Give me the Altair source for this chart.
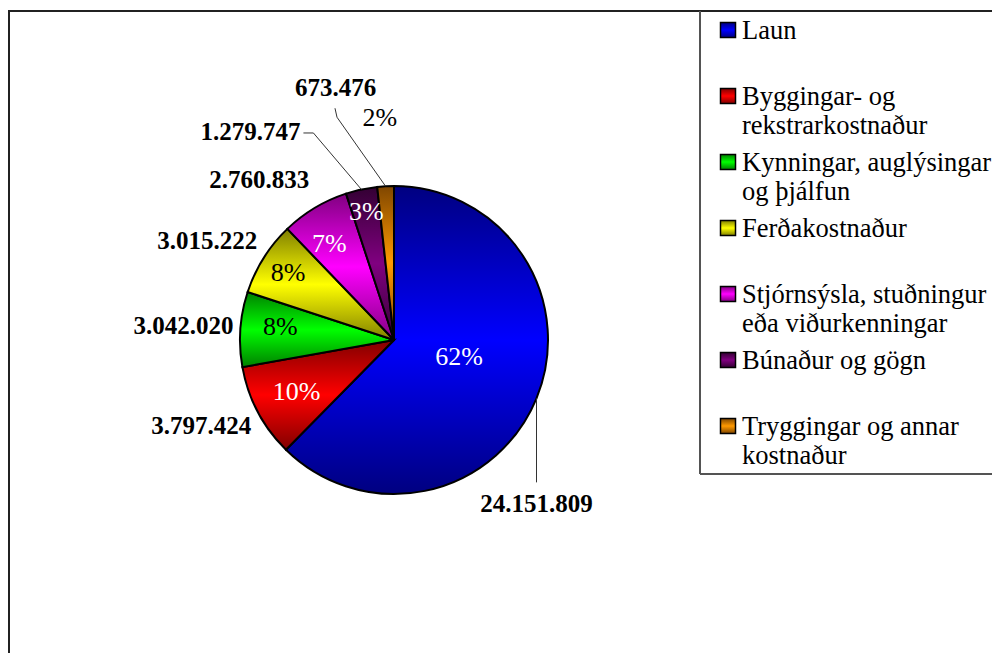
import math
import pandas as pd
import altair as alt

# ---------------- data ----------------
categories = [
    "Laun",
    "Byggingar- og rekstrarkostnaður",
    "Kynningar, auglýsingar og þjálfun",
    "Ferðakostnaður",
    "Stjórnsýsla, stuðningur eða viðurkenningar",
    "Búnaður og gögn",
    "Tryggingar og annar kostnaður",
]
legend_labels = [
    "Laun",
    "Byggingar- og\nrekstrarkostnaður",
    "Kynningar, auglýsingar\nog þjálfun",
    "Ferðakostnaður",
    "\u00a0Stjórnsýsla, stuðningur\neða viðurkenningar",
    "Búnaður og gögn",
    "Tryggingar og annar\nkostnaður",
]
values = [24151809, 3797424, 3042020, 3015222, 2760833, 1279747, 673476]
value_labels = [f"{v:,}".replace(",", ".") for v in values]

df = pd.DataFrame({
    "idx": list(range(len(categories))),
    "category": categories,
    "legend": legend_labels,
    "value": values,
    "vlabel": value_labels,
})

# ---------------- styles (layout / colours) ----------------
CX, CY, R = 386, 332, 154
FONT = "Liberation Serif"

styles = [
    dict(bright="#0000FF", dark="#000080", pc="white", pr=67, pdx=3, pdy=-8,
         vr=154, vdx=0, vdy=106, leader=[(0, 84)]),
    dict(bright="#FF0000", dark="#800000", pc="white", pr=110, pdx=0, pdy=1,
         vr=211, vdx=-6, vdy=-12, leader=[]),
    dict(bright="#00FF00", dark="#008000", pc="black", pr=114, pdx=0, pdy=-5,
         vr=211, vdx=0, vdy=1, leader=[]),
    dict(bright="#FFFF00", dark="#808000", pc="black", pr=125, pdx=0, pdy=0,
         vr=211, vdx=-8, vdy=13, leader=[]),
    dict(bright="#FF00FF", dark="#800080", pc="white", pr=116, pdx=-5, pdy=3,
         vr=211, vdx=-26, vdy=21, leader=[]),
    dict(bright="#800080", dark="#330033", pc="white", pr=131, pdx=0, pdy=0,
         vr=154, vdx=-111, vdy=-57, leader=[(-48, -56.5), (-58, -56.5)]),
    dict(bright="#FF9900", dark="#7F4600", pc="black", pr=222, pdx=-2, pdy=0,
         vr=154, vdx=-50, vdy=-98, leader=[(-48.6, -69), (-50.6, -78)]),
]


def grad(s):
    return alt.Gradient(
        gradient="linear",
        stops=[
            alt.GradientStop(color=s["dark"], offset=0),
            alt.GradientStop(color=s["bright"], offset=0.5),
            alt.GradientStop(color=s["dark"], offset=1),
        ],
        x1=0, x2=0, y1=0, y2=1,
    )


theta_scale = alt.Scale(domain=[0, 1], range=[0, 2 * math.pi])

base = (
    alt.Chart(df)
    .transform_joinaggregate(total="sum(value)")
    .transform_window(cum="sum(value)", sort=[alt.SortField("idx")], frame=[None, 0])
    .transform_calculate(
        t1="datum.cum / datum.total",
        t0="(datum.cum - datum.value) / datum.total",
    )
    .transform_calculate(tm="(datum.t0 + datum.t1) / 2")
    .transform_calculate(
        pct="format(datum.value / datum.total, '.0%')",
        ex=f"{CX} + {R} * sin(2 * PI * datum.tm)",
        ey=f"{CY} - {R} * cos(2 * PI * datum.tm)",
        ly="22 + datum.idx * 66",
    )
)

arcs, leaders, pcts, vals, squares = [], [], [], [], []
for i, s in enumerate(styles):
    sub = base.transform_filter(alt.datum.idx == i)
    arcs.append(
        sub.mark_arc(radius=R, fill=grad(s), stroke="black", strokeWidth=2).encode(
            theta=alt.Theta("t0:Q", scale=theta_scale, stack=None),
            theta2="t1:Q",
            x=alt.value(CX), y=alt.value(CY),
        )
    )
    prev = (0, 0)
    for (ox, oy) in s["leader"]:
        leaders.append(
            sub.transform_calculate(
                sx=f"datum.ex + {prev[0]}", sy=f"datum.ey + {prev[1]}",
                qx=f"datum.ex + {ox}", qy=f"datum.ey + {oy}",
            ).mark_rule(color="#333333", strokeWidth=1).encode(
                x=alt.X("sx:Q", scale=None, axis=None),
                y=alt.Y("sy:Q", scale=None, axis=None),
                x2="qx:Q", y2="qy:Q",
            )
        )
        prev = (ox, oy)
    pcts.append(
        sub.mark_text(radius=s["pr"], dx=s["pdx"], dy=s["pdy"], font=FONT, fontSize=26,
                      color=s["pc"], align="center", baseline="middle").encode(
            theta=alt.Theta("tm:Q", scale=theta_scale, stack=None),
            text="pct:N",
            x=alt.value(CX), y=alt.value(CY),
        )
    )
    vals.append(
        sub.mark_text(radius=s["vr"], dx=s["vdx"], dy=s["vdy"], font=FONT, fontSize=25,
                      fontWeight="bold", color="black", align="center",
                      baseline="middle").encode(
            theta=alt.Theta("tm:Q", scale=theta_scale, stack=None),
            text="vlabel:N",
            x=alt.value(CX), y=alt.value(CY),
        )
    )
    squares.append(
        sub.mark_square(size=225, fill=grad(s), stroke="black", strokeWidth=1.5,
                        opacity=1).encode(
            x=alt.value(720),
            y=alt.Y("ly:Q", scale=None, axis=None),
        )
    )

legend_text = base.mark_text(
    font=FONT, fontSize=26.5, align="left", baseline="alphabetic",
    lineBreak="\n", lineHeight=29, dy=9, color="black",
).encode(
    x=alt.value(734),
    y=alt.Y("ly:Q", scale=None, axis=None),
    text="legend:N",
)

frame_color = "#222222"
frame = [
    alt.Chart(df).mark_rule(color=frame_color, strokeWidth=1.5).encode(
        x=alt.value(0), x2=alt.value(984), y=alt.value(3)),
    alt.Chart(df).mark_rule(color=frame_color, strokeWidth=1.5).encode(
        x=alt.value(1), y=alt.value(3), y2=alt.value(645)),
    alt.Chart(df).mark_rule(color="#555555", strokeWidth=1.5).encode(
        x=alt.value(692), y=alt.value(3), y2=alt.value(466)),
    alt.Chart(df).mark_rule(color="#555555", strokeWidth=1.5).encode(
        x=alt.value(692), x2=alt.value(984), y=alt.value(466)),
]

chart = alt.layer(*arcs, *leaders, *pcts, *vals, *squares, legend_text, *frame).properties(
    width=984,
    height=645,
    padding=0,
    autosize=alt.AutoSizeParams(type="none"),
    background="white",
).configure_view(stroke=None)

chart.save("out.html", embed_options={"renderer": "svg", "actions": False})
